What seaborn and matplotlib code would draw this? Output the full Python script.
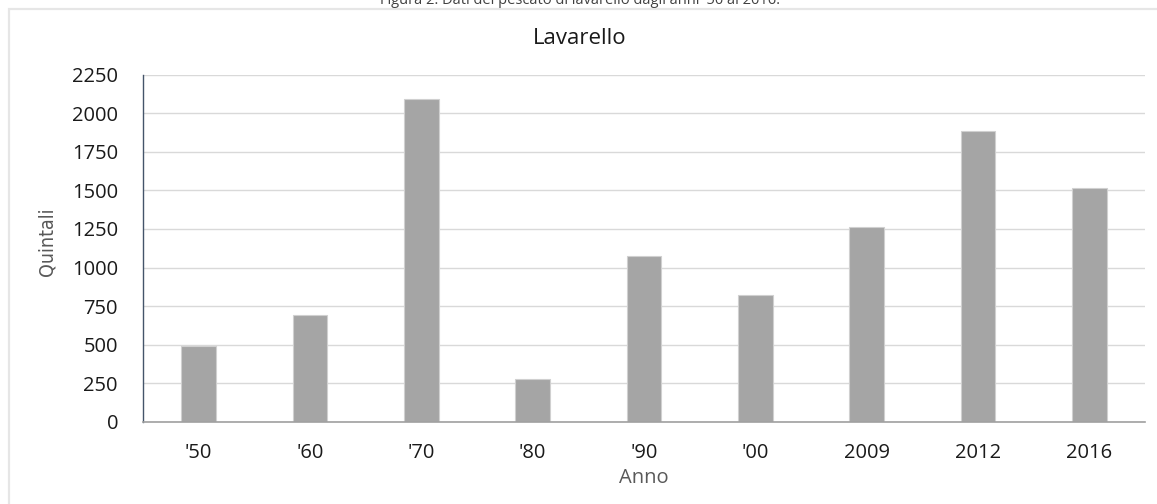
import matplotlib
matplotlib.use("Agg")
import matplotlib.pyplot as plt
from matplotlib.patches import Rectangle
from matplotlib.ticker import FixedLocator
import seaborn as sns
import pandas as pd

# Catch of lavarello (whitefish) by decade / year, in quintals
anni = ["'50", "'60", "'70", "'80", "'90", "'00", "2009", "2012", "2016"]
quintali = [490, 690, 2090, 275, 1075, 825, 1263, 1885, 1515]
y_ticks = [0, 250, 500, 750, 1000, 1250, 1500, 1750, 2000, 2250]

df = pd.DataFrame({"Anno": anni, "Quintali": quintali})

sns.set_theme(style="white")
plt.rcParams["font.family"] = ["Open Sans", "DejaVu Sans"]

W, H = 1157, 504
fig = plt.figure(figsize=(W / 100, H / 100), dpi=100)
ax = fig.add_axes([143 / W, 1 - 421.7 / H, (1145 - 143) / W, (421.7 - 74.8) / H])

sns.barplot(data=df, x="Anno", y="Quintali", order=anni, color="#a5a5a5",
            saturation=1, width=0.31, edgecolor="#d0d0d0", linewidth=0.8,
            ax=ax, zorder=3)

ax.set_ylim(0, 2250)
ax.set_xlim(-0.5, len(anni) - 0.5)
ax.yaxis.set_major_locator(FixedLocator(y_ticks))
ax.grid(axis="y", color="#d9d9d9", linewidth=1.0, zorder=0)
ax.set_axisbelow(True)

# spines
for s in ["top", "right"]:
    ax.spines[s].set_visible(False)
ax.spines["left"].set_color("#44546a")
ax.spines["left"].set_linewidth(1.0)
ax.spines["bottom"].set_color("#a0a0a0")
ax.spines["bottom"].set_linewidth(1.2)
ax.spines["bottom"].set_zorder(4)

# y ticks pointing outward
ax.tick_params(axis="y", which="major", direction="out", length=6, width=1,
               color="#44546a", labelsize=14.5, labelcolor="#1a1a1a", pad=12)
# category labels centred, boundary ticks as minor ticks
ax.tick_params(axis="x", which="major", length=0, labelsize=14.5,
               labelcolor="#1a1a1a", pad=15)
ax.xaxis.set_minor_locator(FixedLocator([i - 0.5 for i in range(len(anni) + 1)]))
ax.tick_params(axis="x", which="minor", direction="out", length=6, width=1,
               color="#a0a0a0")

ax.set_xlabel("Anno", fontsize=14.5, color="#595959", labelpad=4)
ax.set_ylabel("Quintali", fontsize=14, color="#595959",
              fontfamily="DejaVu Sans", fontstretch="condensed")
ax.yaxis.set_label_coords(-0.086, 0.518)

# chart title, centred on the frame
fig.text(580 / W, 1 - 44.3 / H, "Lavarello", ha="center", va="baseline",
         fontsize=16, color="#1a1a1a")

# chart frame
fig.patches.append(Rectangle((8.5 / W, -0.05), 1.2, 1 - 8.5 / H + 0.05,
                             transform=fig.transFigure, fill=False,
                             edgecolor="#e6e6e6", linewidth=1.6, zorder=0))

# figure caption above the frame
fig.text(580 / W, 1 - 4.5 / H,
         "Figura 2. Dati del pescato di lavarello dagli anni '50 al 2016.",
         ha="center", va="baseline", fontsize=10.5, color="#404040")

fig.savefig("out.png", dpi=100)
